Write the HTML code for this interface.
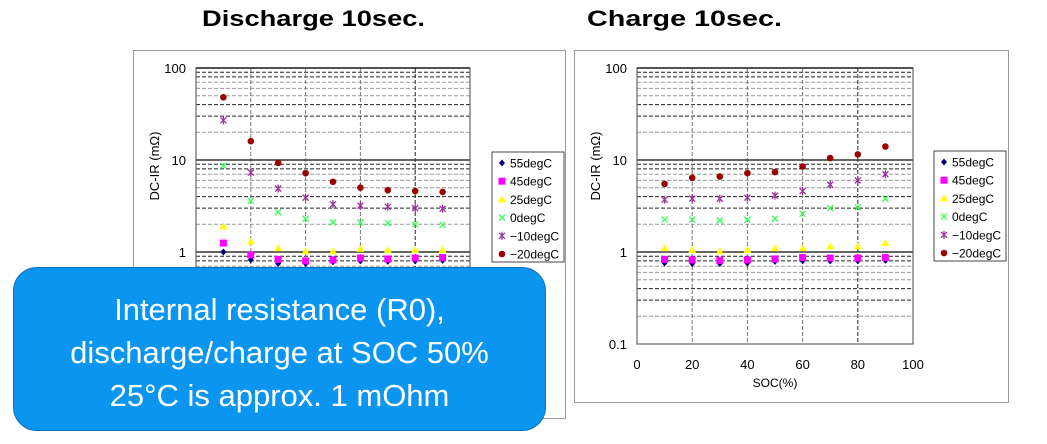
<!DOCTYPE html>
<html><head><meta charset="utf-8"><style>
html,body{margin:0;padding:0;background:#fff;width:1047px;height:444px;overflow:hidden;font-family:"Liberation Sans",sans-serif}
svg{position:absolute;left:0;top:0}
#box{position:absolute;left:13px;top:267px;width:533px;height:164px;background:#0a95f0;border:1.5px solid #0a6fb8;border-radius:24px;box-sizing:border-box;color:#fff;text-align:center;font-size:31px;line-height:43px;padding-top:20px;font-family:"Liberation Sans","DejaVu Sans",sans-serif}
</style></head><body>
<svg id="s" width="1047" height="444" xmlns="http://www.w3.org/2000/svg" font-family="Liberation Sans, sans-serif">
<text x="202" y="26" font-size="22" font-weight="bold" textLength="223" lengthAdjust="spacingAndGlyphs">Discharge 10sec.</text>
<text x="587" y="26" font-size="22" font-weight="bold" textLength="195" lengthAdjust="spacingAndGlyphs">Charge  10sec.</text>
<rect x="133.5" y="50.5" width="432" height="368" fill="none" stroke="#999"/>
<rect x="574.5" y="50.5" width="434" height="352" fill="none" stroke="#999"/>
</svg>
<div id="box">Internal resistance (R0),<br>discharge/charge at SOC 50%<br>25°C is approx. 1 mOhm</div>
<script>
var s=document.getElementById('s'),NS='http://www.w3.org/2000/svg';
function el(t,a,txt){var e=document.createElementNS(NS,t);for(var k in a)e.setAttribute(k,a[k]);if(txt!=null)e.textContent=txt;s.appendChild(e);return e;}
var cols=['#00007a','#ff00ff','#ffff00','#33ff55','#993399','#990000'];
var names=['55degC','45degC','25degC','0degC','\u221210degC','\u221220degC'];
function mark(i,x,y){
 var c=cols[i];
 if(i==0)el('polygon',{points:(x)+','+(y-3.5)+' '+(x+3)+','+y+' '+x+','+(y+3.5)+' '+(x-3)+','+y,fill:c});
 if(i==1)el('rect',{x:x-3.5,y:y-3.5,width:7,height:7,fill:c});
 if(i==2)el('polygon',{points:x+','+(y-4)+' '+(x+4)+','+(y+3)+' '+(x-4)+','+(y+3),fill:c});
 if(i==3){el('path',{d:'M'+(x-3)+' '+(y-3)+'L'+(x+3)+' '+(y+3)+'M'+(x+3)+' '+(y-3)+'L'+(x-3)+' '+(y+3),stroke:c,'stroke-width':1.3});}
 if(i==4){el('path',{d:'M'+(x-3)+' '+(y-3)+'L'+(x+3)+' '+(y+3)+'M'+(x+3)+' '+(y-3)+'L'+(x-3)+' '+(y+3)+'M'+x+' '+(y-4)+'L'+x+' '+(y+4),stroke:c,'stroke-width':1.3});}
 if(i==5)el('circle',{cx:x,cy:y,r:3.3,fill:c});
}
function chart(x0,x1,yTop,data,lx,ly,showX){
 var dec=92,y1=yTop+3*dec;
 function Y(v){return yTop+dec*(2-Math.log10(v));}
 // horizontal grid
 for(var d=-1;d<=1;d++)for(var m=2;m<=9;m++){
  var v=m*Math.pow(10,d),y=Y(v);
  var dark=(m==8||m==9||m==3||m==4);
  el('line',{x1:x0,x2:x1,y1:y,y2:y,stroke:dark?'#222':'#999','stroke-dasharray':'4,2','stroke-width':1});
 }
 for(var k=20;k<=80;k+=20){var x=x0+(x1-x0)*k/100;el('line',{x1:x,x2:x,y1:yTop,y2:y1,stroke:k==80?'#222':'#777','stroke-dasharray':'4,2'});}
 el('line',{x1:x0,x2:x1,y1:Y(10),y2:Y(10),stroke:'#333','stroke-width':1.5});
 el('line',{x1:x0,x2:x1,y1:Y(1),y2:Y(1),stroke:'#333','stroke-width':1.5});
 el('rect',{x:x0,y:yTop,width:x1-x0,height:y1-yTop,fill:'none',stroke:'#666','stroke-width':1.2});
 el('line',{x1:x0,x2:x1,y1:yTop,y2:yTop,stroke:'#222','stroke-width':1.5});
 var lab=[[100,'100'],[10,'10'],[1,'1'],[0.1,'0.1']];
 lab.forEach(function(a){el('text',{x:x0-10,y:Y(a[0])+5,'font-size':13,'text-anchor':'end'},a[1]);});
 var cy=(yTop+y1)/2-40;
 el('text',{x:0,y:0,'font-size':13,'text-anchor':'middle',transform:'translate('+(x0-37)+','+cy+') rotate(-90)'},'DC-IR (m\u03A9)');
 if(showX){for(var k=0;k<=100;k+=20)el('text',{x:x0+(x1-x0)*k/100,y:y1+25,'font-size':13,'text-anchor':'middle'},''+k);
  el('text',{x:(x0+x1)/2,y:y1+43,'font-size':12,'text-anchor':'middle'},'SOC(%)');}
 for(var i=0;i<6;i++)data[i].forEach(function(v,j){mark(i,x0+(x1-x0)*(j+1)/10,Y(v));});
 el('rect',{x:lx,y:ly,width:72,height:110,fill:'#fff',stroke:'#444'});
 for(var i=0;i<6;i++){var yy=ly+11+i*18.2;mark(i,lx+10,yy);el('text',{x:lx+18,y:yy+4.5,'font-size':12},names[i]);}
}
var L=[[1.0,0.82,0.75,0.75,0.78,0.8,0.79,0.8,0.81],[1.25,0.93,0.83,0.8,0.82,0.86,0.84,0.86,0.87],[1.9,1.3,1.1,1.02,1.02,1.08,1.05,1.05,1.05],[8.7,3.6,2.7,2.3,2.1,2.1,2.05,2.0,1.97],[27,7.3,4.9,3.9,3.3,3.2,3.1,3.0,2.95],[48,16,9.3,7.2,5.8,5,4.7,4.6,4.5]];
var R=[[0.76,0.75,0.75,0.76,0.79,0.8,0.8,0.8,0.81],[0.83,0.82,0.81,0.82,0.84,0.87,0.86,0.86,0.87],[1.1,1.05,1.02,1.05,1.1,1.1,1.15,1.15,1.25],[2.25,2.25,2.2,2.25,2.3,2.6,3.0,3.05,3.8],[3.7,3.8,3.8,3.9,4.1,4.6,5.4,6,7],[5.5,6.4,6.6,7.2,7.4,8.5,10.5,11.5,14]];
chart(196,470,68,L,492,152,false);
chart(637,913,68,R,934,151,true);
</script>
</body></html>
